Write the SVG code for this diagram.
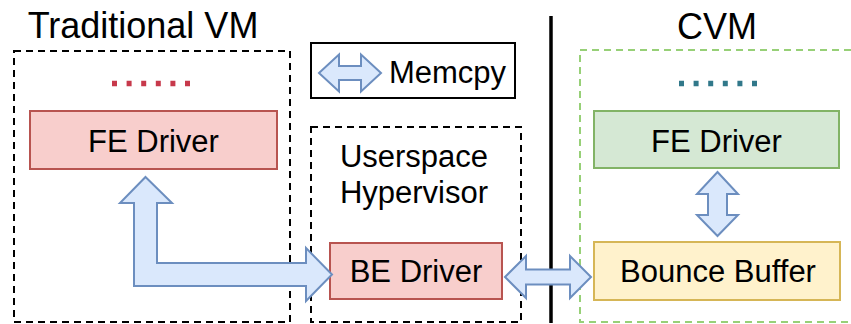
<svg xmlns="http://www.w3.org/2000/svg" width="851" height="324" viewBox="0 0 851 324">
<style>
.t{font-family:"Liberation Sans",Arial,sans-serif;fill:#000;text-anchor:middle}
.title{font-size:36px}
.lbl{font-size:31px}
.dash{fill:none;stroke:#000;stroke-width:2;stroke-dasharray:7 5}
.gdash{fill:none;stroke:#97d077;stroke-width:2;stroke-dasharray:7 5}
.red{fill:#f8cecc;stroke:#b85450;stroke-width:2}
.green{fill:#d5e8d4;stroke:#82b366;stroke-width:2}
.yellow{fill:#fff2cc;stroke:#d6b656;stroke-width:2}
.arr{fill:#dae8fc;stroke:#6c8ebf;stroke-width:2;stroke-linejoin:miter}
</style>
<rect width="851" height="324" fill="#fff"/>
<g id="traditional-vm">
<rect class="dash" x="14" y="51" width="276" height="271"/>
<text class="t title" x="143" y="38">Traditional VM</text>
<line x1="112" y1="83.5" x2="192" y2="83.5" stroke="#c7394b" stroke-width="5.5" stroke-dasharray="5 9.6"/>
</g>
<g id="fe-driver-left">
<rect class="red" x="30" y="111" width="247" height="58"/>
<text class="t lbl" x="153.5" y="152">FE Driver</text>
</g>
<g id="memcpy-legend">
<rect x="311" y="43" width="204" height="55" fill="#fff" stroke="#000" stroke-width="2"/>
<polygon class="arr" points="319,73 339,54.5 339,66 361,66 361,54.5 381,73 361,91.5 361,80 339,80 339,91.5"/>
<text class="t lbl" x="447.5" y="83">Memcpy</text>
</g>
<g id="userspace-hypervisor">
<rect class="dash" x="311" y="127" width="210" height="195"/>
<text class="t lbl" x="414" y="167">Userspace</text>
<text class="t lbl" x="414" y="203">Hypervisor</text>
</g>
<g id="be-driver">
<rect class="red" x="330" y="243" width="172" height="56"/>
<text class="t lbl" x="416" y="282">BE Driver</text>
</g>
<g id="divider">
<line x1="551" y1="16" x2="551" y2="323" stroke="#000" stroke-width="3.5"/>
</g>
<g id="cvm">
<rect class="gdash" x="580" y="50" width="280" height="272"/>
<text class="t title" x="717" y="39">CVM</text>
<line x1="679" y1="83.5" x2="759" y2="83.5" stroke="#31788a" stroke-width="5.5" stroke-dasharray="5 9.6"/>
</g>
<g id="fe-driver-cvm">
<rect class="green" x="594" y="111" width="245" height="57"/>
<text class="t lbl" x="716.5" y="152">FE Driver</text>
</g>
<g id="bounce-buffer">
<rect class="yellow" x="594" y="242" width="246" height="58"/>
<text class="t lbl" x="718" y="282">Bounce Buffer</text>
</g>
<g id="connectors">
<polygon class="arr" points="145.5,177 172,203 157,203 157,263 306,263 306,248 332,274.5 306,301 306,286 134,286 134,203 120,203"/>
<polygon class="arr" points="505,277 526,256 526,269.5 570,269.5 570,256 591,277 570,298 570,284.5 526,284.5 526,298"/>
<polygon class="arr" points="717.5,172 738,194 727,194 727,215 738,215 717.5,236 697,215 708,215 708,194 697,194"/>
</g>
</svg>
